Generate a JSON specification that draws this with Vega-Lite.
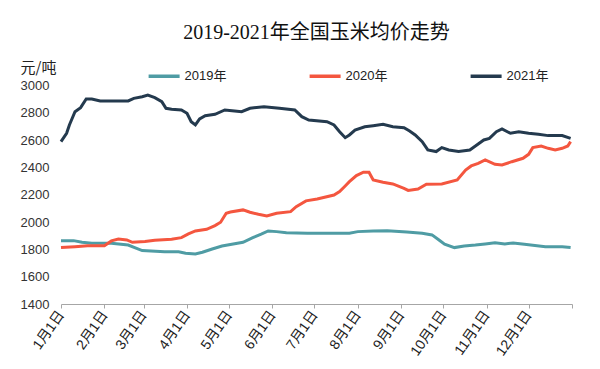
{
  "$schema": "https://vega.github.io/schema/vega-lite/v6.json",
  "width": 511,
  "height": 218.5,
  "autosize": {"type": "none"},
  "padding": {"left": 61, "top": 85.5, "right": 28, "bottom": 65},
  "background": "white",
  "title": {
    "text": "2019-2021年全国玉米均价走势",
    "font": "Liberation Serif, Noto Sans CJK SC",
    "fontSize": 20,
    "fontWeight": "normal",
    "color": "#111111",
    "anchor": "middle",
    "offset": 16
  },
  "config": {
    "view": {"stroke": null},
    "font": "Liberation Sans, Noto Sans CJK SC"
  },
  "data": {
    "values": [
      {"day": 0, "series": "2019年", "price": 1864},
      {"day": 9, "series": "2019年", "price": 1864},
      {"day": 15, "series": "2019年", "price": 1852},
      {"day": 22, "series": "2019年", "price": 1845},
      {"day": 36, "series": "2019年", "price": 1845},
      {"day": 48, "series": "2019年", "price": 1832},
      {"day": 54, "series": "2019年", "price": 1808},
      {"day": 58, "series": "2019年", "price": 1791},
      {"day": 74, "series": "2019年", "price": 1783},
      {"day": 84, "series": "2019年", "price": 1783},
      {"day": 89, "series": "2019年", "price": 1772},
      {"day": 96, "series": "2019年", "price": 1766},
      {"day": 101, "series": "2019年", "price": 1779},
      {"day": 108, "series": "2019年", "price": 1803},
      {"day": 115, "series": "2019年", "price": 1825},
      {"day": 121, "series": "2019年", "price": 1836},
      {"day": 130, "series": "2019年", "price": 1852},
      {"day": 137, "series": "2019年", "price": 1886},
      {"day": 143, "series": "2019年", "price": 1911},
      {"day": 148, "series": "2019年", "price": 1935},
      {"day": 154, "series": "2019年", "price": 1930},
      {"day": 161, "series": "2019年", "price": 1922},
      {"day": 176, "series": "2019年", "price": 1918},
      {"day": 206, "series": "2019年", "price": 1918},
      {"day": 212, "series": "2019年", "price": 1930},
      {"day": 223, "series": "2019年", "price": 1935},
      {"day": 233, "series": "2019年", "price": 1937},
      {"day": 247, "series": "2019年", "price": 1927},
      {"day": 258, "series": "2019年", "price": 1918},
      {"day": 265, "series": "2019年", "price": 1906},
      {"day": 270, "series": "2019年", "price": 1869},
      {"day": 274, "series": "2019年", "price": 1838},
      {"day": 281, "series": "2019年", "price": 1813},
      {"day": 288, "series": "2019年", "price": 1825},
      {"day": 296, "series": "2019年", "price": 1832},
      {"day": 303, "series": "2019年", "price": 1840},
      {"day": 310, "series": "2019年", "price": 1849},
      {"day": 317, "series": "2019年", "price": 1840},
      {"day": 323, "series": "2019年", "price": 1847},
      {"day": 331, "series": "2019年", "price": 1838},
      {"day": 346, "series": "2019年", "price": 1820},
      {"day": 358, "series": "2019年", "price": 1820},
      {"day": 364, "series": "2019年", "price": 1813},

      {"day": 0, "series": "2020年", "price": 1813},
      {"day": 10, "series": "2020年", "price": 1820},
      {"day": 19, "series": "2020年", "price": 1827},
      {"day": 31, "series": "2020年", "price": 1827},
      {"day": 36, "series": "2020年", "price": 1862},
      {"day": 41, "series": "2020年", "price": 1876},
      {"day": 47, "series": "2020年", "price": 1869},
      {"day": 51, "series": "2020年", "price": 1852},
      {"day": 60, "series": "2020年", "price": 1857},
      {"day": 67, "series": "2020年", "price": 1867},
      {"day": 79, "series": "2020年", "price": 1874},
      {"day": 86, "series": "2020年", "price": 1886},
      {"day": 91, "series": "2020年", "price": 1913},
      {"day": 96, "series": "2020年", "price": 1935},
      {"day": 104, "series": "2020年", "price": 1947},
      {"day": 110, "series": "2020年", "price": 1974},
      {"day": 114, "series": "2020年", "price": 1999},
      {"day": 118, "series": "2020年", "price": 2065},
      {"day": 121, "series": "2020年", "price": 2074},
      {"day": 130, "series": "2020年", "price": 2089},
      {"day": 135, "series": "2020年", "price": 2072},
      {"day": 141, "series": "2020年", "price": 2057},
      {"day": 147, "series": "2020年", "price": 2045},
      {"day": 154, "series": "2020年", "price": 2065},
      {"day": 164, "series": "2020年", "price": 2076},
      {"day": 168, "series": "2020年", "price": 2113},
      {"day": 175, "series": "2020年", "price": 2155},
      {"day": 183, "series": "2020年", "price": 2169},
      {"day": 195, "series": "2020年", "price": 2198},
      {"day": 199, "series": "2020年", "price": 2223},
      {"day": 203, "series": "2020年", "price": 2264},
      {"day": 206, "series": "2020年", "price": 2296},
      {"day": 211, "series": "2020年", "price": 2340},
      {"day": 216, "series": "2020年", "price": 2365},
      {"day": 220, "series": "2020年", "price": 2365},
      {"day": 223, "series": "2020年", "price": 2308},
      {"day": 230, "series": "2020年", "price": 2291},
      {"day": 237, "series": "2020年", "price": 2279},
      {"day": 245, "series": "2020年", "price": 2247},
      {"day": 248, "series": "2020年", "price": 2232},
      {"day": 255, "series": "2020年", "price": 2242},
      {"day": 261, "series": "2020年", "price": 2277},
      {"day": 272, "series": "2020年", "price": 2279},
      {"day": 283, "series": "2020年", "price": 2308},
      {"day": 289, "series": "2020年", "price": 2381},
      {"day": 293, "series": "2020年", "price": 2411},
      {"day": 298, "series": "2020年", "price": 2430},
      {"day": 303, "series": "2020年", "price": 2455},
      {"day": 310, "series": "2020年", "price": 2423},
      {"day": 315, "series": "2020年", "price": 2418},
      {"day": 322, "series": "2020年", "price": 2442},
      {"day": 330, "series": "2020年", "price": 2467},
      {"day": 334, "series": "2020年", "price": 2496},
      {"day": 337, "series": "2020年", "price": 2545},
      {"day": 343, "series": "2020年", "price": 2557},
      {"day": 348, "series": "2020年", "price": 2540},
      {"day": 353, "series": "2020年", "price": 2528},
      {"day": 358, "series": "2020年", "price": 2540},
      {"day": 362, "series": "2020年", "price": 2557},
      {"day": 364, "series": "2020年", "price": 2589},

      {"day": 0, "series": "2021年", "price": 2589},
      {"day": 4, "series": "2021年", "price": 2650},
      {"day": 6, "series": "2021年", "price": 2711},
      {"day": 10, "series": "2021年", "price": 2808},
      {"day": 14, "series": "2021年", "price": 2838},
      {"day": 18, "series": "2021年", "price": 2901},
      {"day": 22, "series": "2021年", "price": 2901},
      {"day": 28, "series": "2021年", "price": 2887},
      {"day": 48, "series": "2021年", "price": 2887},
      {"day": 52, "series": "2021年", "price": 2906},
      {"day": 58, "series": "2021年", "price": 2918},
      {"day": 62, "series": "2021年", "price": 2930},
      {"day": 67, "series": "2021年", "price": 2911},
      {"day": 72, "series": "2021年", "price": 2882},
      {"day": 75, "series": "2021年", "price": 2833},
      {"day": 79, "series": "2021年", "price": 2826},
      {"day": 86, "series": "2021年", "price": 2821},
      {"day": 90, "series": "2021年", "price": 2797},
      {"day": 93, "series": "2021年", "price": 2735},
      {"day": 96, "series": "2021年", "price": 2711},
      {"day": 99, "series": "2021年", "price": 2755},
      {"day": 103, "series": "2021年", "price": 2779},
      {"day": 110, "series": "2021年", "price": 2789},
      {"day": 117, "series": "2021年", "price": 2821},
      {"day": 124, "series": "2021年", "price": 2813},
      {"day": 129, "series": "2021年", "price": 2808},
      {"day": 135, "series": "2021年", "price": 2833},
      {"day": 145, "series": "2021年", "price": 2845},
      {"day": 156, "series": "2021年", "price": 2833},
      {"day": 167, "series": "2021年", "price": 2821},
      {"day": 172, "series": "2021年", "price": 2772},
      {"day": 177, "series": "2021年", "price": 2747},
      {"day": 190, "series": "2021年", "price": 2735},
      {"day": 195, "series": "2021年", "price": 2711},
      {"day": 199, "series": "2021年", "price": 2662},
      {"day": 203, "series": "2021年", "price": 2618},
      {"day": 206, "series": "2021年", "price": 2638},
      {"day": 210, "series": "2021年", "price": 2674},
      {"day": 217, "series": "2021年", "price": 2698},
      {"day": 223, "series": "2021年", "price": 2706},
      {"day": 230, "series": "2021年", "price": 2716},
      {"day": 237, "series": "2021年", "price": 2698},
      {"day": 245, "series": "2021年", "price": 2691},
      {"day": 249, "series": "2021年", "price": 2667},
      {"day": 253, "series": "2021年", "price": 2638},
      {"day": 258, "series": "2021年", "price": 2589},
      {"day": 262, "series": "2021年", "price": 2528},
      {"day": 268, "series": "2021年", "price": 2516},
      {"day": 272, "series": "2021年", "price": 2545},
      {"day": 277, "series": "2021年", "price": 2528},
      {"day": 284, "series": "2021年", "price": 2516},
      {"day": 292, "series": "2021年", "price": 2528},
      {"day": 297, "series": "2021年", "price": 2564},
      {"day": 302, "series": "2021年", "price": 2601},
      {"day": 306, "series": "2021年", "price": 2613},
      {"day": 311, "series": "2021年", "price": 2662},
      {"day": 315, "series": "2021年", "price": 2682},
      {"day": 321, "series": "2021年", "price": 2650},
      {"day": 327, "series": "2021年", "price": 2662},
      {"day": 334, "series": "2021年", "price": 2650},
      {"day": 341, "series": "2021年", "price": 2643},
      {"day": 348, "series": "2021年", "price": 2633},
      {"day": 358, "series": "2021年", "price": 2633},
      {"day": 364, "series": "2021年", "price": 2613}
    ]
  },
  "mark": {"type": "line", "strokeWidth": 3, "interpolate": "linear"},
  "encoding": {
    "x": {
      "field": "day",
      "type": "quantitative",
      "scale": {"domain": [0, 365], "nice": false, "zero": false},
      "axis": {
        "title": null,
        "values": [0, 31, 59, 90, 120, 151, 181, 212, 243, 273, 304, 334, 365],
        "labelExpr": "datum.value >= 365 ? '' : (month(datetime(2021, 0, 1 + datum.value)) + 1) + '月1日'",
        "labelAngle": -55,
        "labelAlign": "right",
        "labelBaseline": "middle",
        "labelFontSize": 14,
        "labelColor": "#222222",
        "labelPadding": 4,
        "labelFont": "Liberation Sans, Noto Sans CJK SC",
        "grid": false,
        "domainColor": "#a6a6a6",
        "domainWidth": 1,
        "tickColor": "#a6a6a6",
        "tickSize": 4,
        "labelOverlap": false,
        "labelBound": false,
        "labelFlush": false
      }
    },
    "y": {
      "field": "price",
      "type": "quantitative",
      "scale": {"domain": [1400, 3000], "nice": false, "zero": false},
      "axis": {
        "title": "元/吨",
        "titleAngle": 0,
        "titleAlign": "left",
        "titleBaseline": "middle",
        "titleX": -41,
        "titleY": -18.5,
        "titleFontSize": 15,
        "titleFontWeight": "normal",
        "titleColor": "#222222",
        "titleFont": "Noto Sans CJK SC",
        "values": [1400, 1600, 1800, 2000, 2200, 2400, 2600, 2800, 3000],
        "format": "d",
        "labelFontSize": 13,
        "labelColor": "#333333",
        "labelPadding": 12,
        "ticks": false,
        "domain": false,
        "grid": false
      }
    },
    "color": {
      "field": "series",
      "type": "nominal",
      "scale": {
        "domain": ["2019年", "2020年", "2021年"],
        "range": ["#4f9ca4", "#f4563f", "#243a4e"]
      },
      "legend": {
        "title": null,
        "orient": "none",
        "direction": "horizontal",
        "legendX": 85.6,
        "legendY": -27,
        "padding": 0,
        "symbolType": "stroke",
        "symbolSize": 961,
        "symbolStrokeWidth": 3.5,
        "labelFontSize": 13,
        "labelColor": "#222222",
        "labelOffset": 3,
        "columnPadding": 76
      }
    }
  }
}
